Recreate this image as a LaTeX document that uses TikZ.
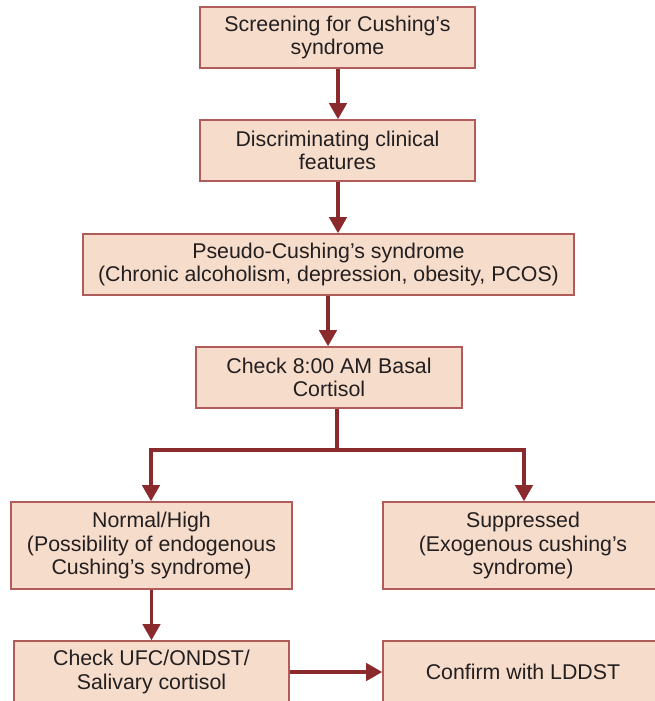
\documentclass[tikz,border=0pt]{standalone}
\usepackage{fontspec}
\setmainfont{Liberation Sans}
\usetikzlibrary{arrows.meta}
\definecolor{boxfill}{HTML}{F6DCCA}
\definecolor{boxline}{HTML}{B25B5B}
\definecolor{arr}{HTML}{8B2A2C}
\definecolor{txt}{HTML}{231F20}
\begin{document}
\begin{tikzpicture}[x=0.75pt,y=-0.75pt,
  box/.style={draw=boxline,fill=boxfill,line width=1.2pt,inner sep=0pt,
    align=center,text=txt,font=\fontsize{16}{17.6}\selectfont},
  conn/.style={draw=arr,line width=2.4pt,-{Triangle[width=13pt,length=12pt]}},
  plain/.style={draw=arr,line width=2.4pt}]
\useasboundingbox (0,0) rectangle (655,701);
\clip (0,0) rectangle (655,701);
\node[box,minimum width=206.25pt,minimum height=45.75pt] (b1) at (337.5,37.5) {Screening for Cushing’s\\syndrome};
\node[box,minimum width=206.25pt,minimum height=45.75pt] (b2) at (337.5,150.5) {Discriminating clinical\\features};
\node[box,minimum width=368.25pt,minimum height=45.75pt] (b3) at (328.5,264.5) {Pseudo-Cushing’s syndrome\\(Chronic alcoholism, depression, obesity, PCOS)};
\node[box,minimum width=199.5pt,minimum height=45.75pt] (b4) at (329,377.5) {Check 8:00 AM Basal\\Cortisol};
\node[box,minimum width=210.75pt,minimum height=65.25pt] (b5) at (151.5,545.5) {Normal/High\\(Possibility of endogenous\\Cushing’s syndrome)};
\node[box,minimum width=210pt,minimum height=65.25pt] (b6) at (523,545.5) {Suppressed\\(Exogenous cushing’s\\syndrome)};
\node[box,minimum width=206.25pt,minimum height=46.5pt] (b7) at (151.5,672) {Check UFC/ONDST/\\Salivary cortisol};
\node[box,minimum width=210pt,minimum height=46.5pt] (b8) at (523,672) {Confirm with LDDST};

\coordinate (a1) at (338,0);
\coordinate (a3) at (328,0);
\coordinate (br) at (337,450);
\coordinate (bl) at (151,450);
\coordinate (brr) at (524,450);
\draw[conn] (b1.south -| a1) -- (b2.north -| a1);
\draw[conn] (b2.south -| a1) -- (b3.north -| a1);
\draw[conn] (b3.south -| a3) -- (b4.north -| a3);
\draw[plain] (b4.south -| br) -- (br);
\draw[conn] (br) -- (bl) -- (b5.north -| bl);
\draw[conn] (br) -- (brr) -- (b6.north -| brr);
\draw[conn] (b5.south -| b7.north) -- (b7.north);
\draw[conn] (b7.east) -- (b8.west);
\end{tikzpicture}
\end{document}
